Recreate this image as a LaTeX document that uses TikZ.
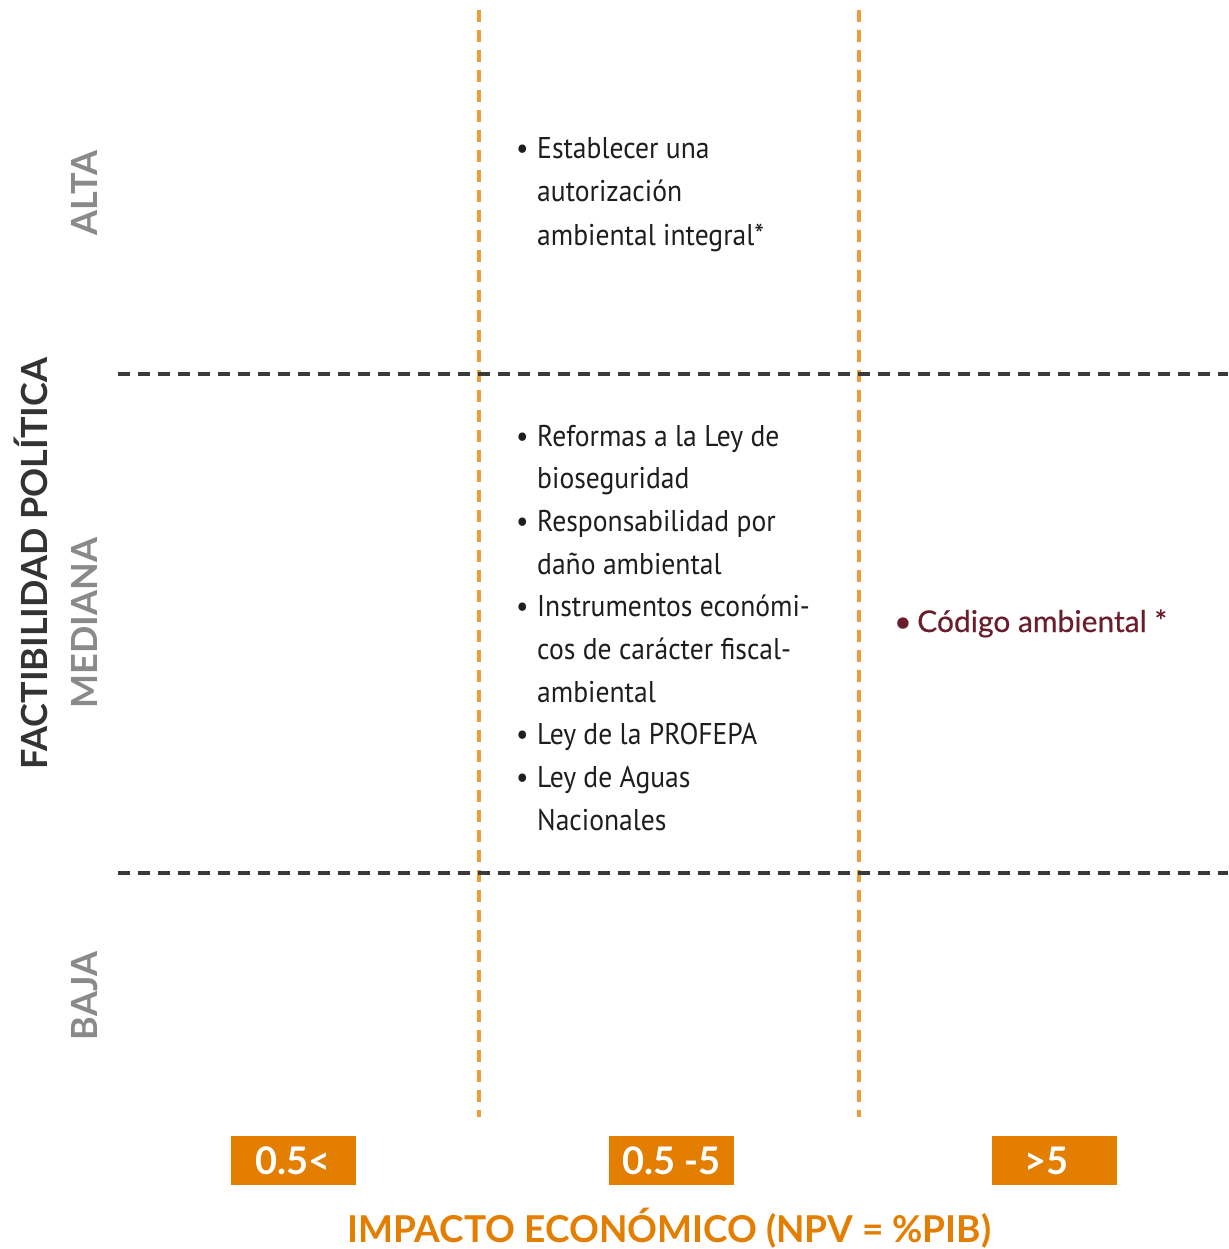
\documentclass[tikz,border=0pt]{standalone}
\usepackage{fontspec}
\setmainfont{Lato}
\newfontfamily\bodyfont[FakeStretch=0.92]{PT Sans}
\newfontfamily\codefont[FakeBold=0.4]{Lato}
\definecolor{boxorange}{HTML}{E37E00}
\definecolor{lineorange}{HTML}{EE9C38}
\definecolor{linedark}{HTML}{3A3A3A}
\definecolor{textdark}{HTML}{1E1E1E}
\definecolor{labelgray}{HTML}{8A8A8A}
\definecolor{axisdark}{HTML}{333333}
\definecolor{codered}{HTML}{6B1D2B}
\begin{document}
\begin{tikzpicture}[x=1pt,y=-1pt,
  hline/.style={draw=linedark, line width=3.6pt, dash pattern=on 12pt off 8pt},
  vline/.style={draw=lineorange, line width=3.4pt, dash pattern=on 12pt off 8pt},
  body/.style={anchor=base west, inner sep=0pt, font=\bodyfont\fontsize{30}{43}\selectfont, text=textdark},
  bul/.style={anchor=base west, inner sep=0pt, font=\bodyfont\fontsize{30}{43}\selectfont, text=textdark},
  codetext/.style={anchor=base west, inner sep=0pt, font=\codefont\fontsize{30}{40}\selectfont, text=codered},
  levellabel/.style={rotate=90, anchor=base, inner sep=0pt, font=\fontsize{36}{40}\selectfont\bfseries, text=labelgray},
  axislabel/.style={rotate=90, anchor=base, inner sep=0pt, font=\fontsize{36}{40}\selectfont\bfseries, text=axisdark},
  valbox/.style={fill=boxorange, minimum width=125pt, minimum height=49pt, inner sep=0pt, text=white, font=\fontsize{38}{40}\selectfont\bfseries},
  titlelabel/.style={anchor=base, inner sep=0pt, font=\fontsize{37}{44}\selectfont\bfseries, text=boxorange}
]
\useasboundingbox[fill=white] (0,0) rectangle (1228,1249);

% grid lines
\coordinate (h1a) at (118,374);  \coordinate (h1b) at (1228,374);
\coordinate (h2a) at (118,873);  \coordinate (h2b) at (1228,873);
\coordinate (v1a) at (479,10);   \coordinate (v1b) at (479,1117);
\coordinate (v2a) at (859,10);   \coordinate (v2b) at (859,1117);
\draw[vline] (v1a) -- (v1b);
\draw[vline] (v2a) -- (v2b);
\draw[hline] (h1a) -- (h1b);
\draw[hline] (h2a) -- (h2b);

% ALTA block
\node[bul]  (b1) at (516,159) {•};
\node[body] (t1a) at (537,159) {Establecer una};
\node[body] (t1b) at (537,202) {autorización};
\node[body] (t1c) at (537,245) {ambiental integral*};

% MEDIANA block
\node[bul]  (b2) at (516,446) {•};
\node[body] (t2a) at (537,446) {Reformas a la Ley de};
\node[body] (t2b) at (537,488.7) {bioseguridad};
\node[bul]  (b3) at (516,531.4) {•};
\node[body] (t3a) at (537,531.4) {Responsabilidad por};
\node[body] (t3b) at (537,574.1) {daño ambiental};
\node[bul]  (b4) at (516,616.8) {•};
\node[body] (t4a) at (537,616.8) {Instrumentos económi-};
\node[body] (t4b) at (537,659.5) {cos de carácter fiscal-};
\node[body] (t4c) at (537,702.2) {ambiental};
\node[bul]  (b5) at (516,744.9) {•};
\node[body] (t5a) at (537,744.9) {Ley de la PROFEPA};
\node[bul]  (b6) at (516,787.6) {•};
\node[body] (t6a) at (537,787.6) {Ley de Aguas};
\node[body] (t6b) at (537,830.3) {Nacionales};

% right column
\node[codetext] (cb) at (894,632) {•};
\node[codetext] (ct) at (917,632) {Código ambiental *};

% left axis labels
\node[axislabel] (fp) at (47,564) {FACTIBILIDAD POLÍTICA};
\node[levellabel] (alta) at (97,193) {ALTA};
\node[levellabel] (mediana) at (97,623) {MEDIANA};
\node[levellabel] (baja) at (97,996) {BAJA};

% value boxes
\node[valbox] (x1) at (293,1160.5) {0.5<};
\node[valbox] (x2) at (671.5,1160.5) {0.5 -5};
\node[valbox] (x3) at (1054.5,1160.5) {>5\kern16pt\relax};

% title
\node[titlelabel] (title) at (669.5,1242) {IMPACTO ECONÓMICO (NPV = \%PIB)};
\end{tikzpicture}
\end{document}
